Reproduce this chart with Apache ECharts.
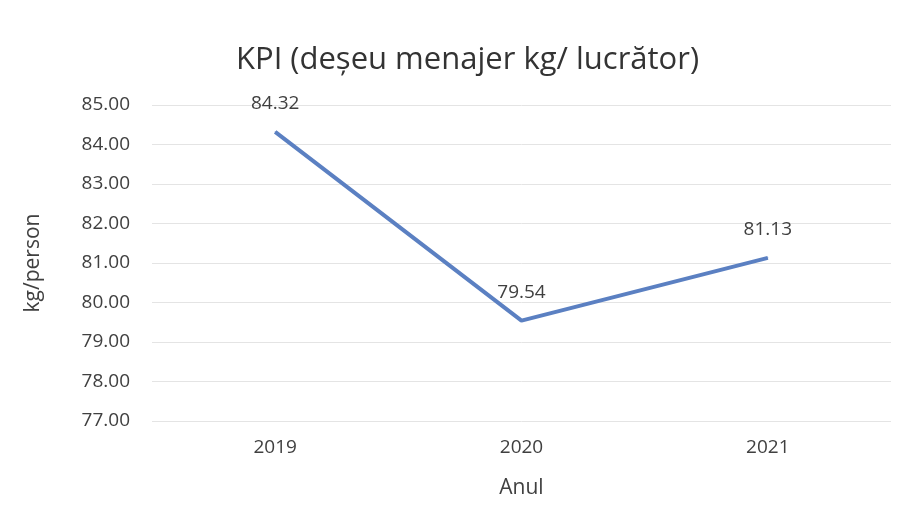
<!DOCTYPE html>
<html><head><meta charset="utf-8">
<script src="https://cdn.jsdelivr.net/npm/echarts@6/dist/echarts.min.js"></script>
<style>html,body{margin:0;padding:0;background:#fff}#c{width:909px;height:521px}</style>
</head><body><div id="c"></div>
<script>
const categories = ['2019', '2020', '2021'];
const kpiValues = [84.32, 79.54, 81.13];
const yTicks = { min: 77, max: 85, interval: 1 };

const chart = echarts.init(document.getElementById('c'), null, { renderer: 'canvas' });
const txt = '#404040';
chart.setOption({
  animation: false,
  backgroundColor: '#fff',
  title: {
    text: 'KPI (deșeu menajer kg/ lucrător)',
    left: 231, top: 40,
    textStyle: { fontFamily: 'Open Sans', fontSize: 31, fontWeight: 'normal', color: '#333' }
  },
  grid: { left: 152, right: 18, top: 105, bottom: 100 },
  xAxis: {
    type: 'category', data: categories, boundaryGap: true,
    axisLine: { show: false }, axisTick: { show: false },
    axisLabel: { color: txt, fontFamily: 'Open Sans', fontSize: 19, margin: 17 },
    name: 'Anul', nameLocation: 'middle', nameGap: 57,
    nameTextStyle: { color: txt, fontFamily: 'Open Sans', fontSize: 21 }
  },
  yAxis: {
    type: 'value', min: yTicks.min, max: yTicks.max, interval: yTicks.interval,
    axisLine: { show: false }, axisTick: { show: false },
    axisLabel: { color: txt, fontFamily: 'Open Sans', fontSize: 19, margin: 22,
      formatter: v => v.toFixed(2) },
    splitLine: { lineStyle: { color: '#e4e4e4', width: 1 } },
    name: 'kg/person', nameLocation: 'middle', nameGap: 108, nameRotate: 90,
    nameTextStyle: { color: txt, fontFamily: 'Open Sans', fontSize: 21 }
  },
  series: [{
    type: 'line', data: kpiValues, showSymbol: true, symbol: 'circle', symbolSize: 1,
    itemStyle: { color: '#5b80c2' },
    lineStyle: { color: '#5b80c2', width: 4 },
    label: { show: true, position: 'top', distance: 18, color: txt,
      fontFamily: 'Open Sans', fontSize: 19, formatter: p => p.value.toFixed(2) }
  }]
});
</script></body></html>
